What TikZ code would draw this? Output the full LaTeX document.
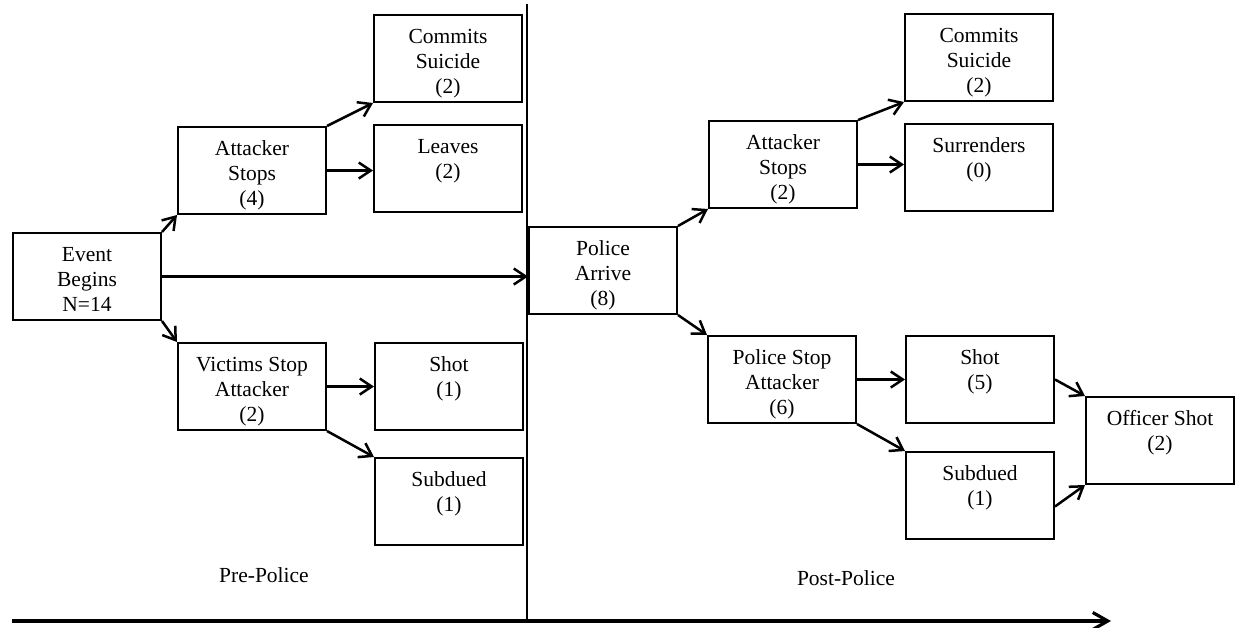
\documentclass[tikz,border=0pt]{standalone}
\usepackage{fontspec}
\setmainfont{Liberation Serif}
\usetikzlibrary{arrows.meta}
\newcommand\bxtext[1]{\parbox[c][87pt][t]{148pt}{\centering\rule{0pt}{28pt}#1}}
\tikzset{
  boxnode/.style={draw, line width=2pt, inner sep=0pt, anchor=north west, font=\fontsize{21.5}{25}\selectfont},
  flow/.style={line width=2.5pt, -{Straight Barb[length=12pt,width=16pt,line width=2.5pt]}},
  axis/.style={line width=3.5pt, -{Straight Barb[length=15pt,width=17pt,line width=3.2pt]}},
  divider/.style={line width=2.6pt},
  phase/.style={anchor=base, font=\fontsize{21.5}{25}\selectfont}
}
\begin{document}
\begin{tikzpicture}[x=1pt,y=-1pt]
\useasboundingbox (0,0) rectangle (1235,627);
% divider and time axis
\coordinate (vtop) at (527,4);
\coordinate (vbot) at (527,621);
\coordinate (axstart) at (12,621);
\coordinate (axend) at (1111,621);
\draw[divider] (vtop) -- (vbot);
\draw[axis] (axstart) -- (axend);
% boxes
\node[boxnode] (ev) at (12,232) {\bxtext{Event\\Begins\\N=14}};
\node[boxnode] (as1) at (177,126) {\bxtext{Attacker\\Stops\\(4)}};
\node[boxnode] (cs1) at (373,14) {\bxtext{Commits\\Suicide\\(2)}};
\node[boxnode] (lv1) at (373,124) {\bxtext{Leaves\\(2)}};
\node[boxnode] (vs1) at (177,342) {\bxtext{Victims Stop\\Attacker\\(2)}};
\node[boxnode] (sh1) at (374,342) {\bxtext{Shot\\(1)}};
\node[boxnode] (sb1) at (374,457) {\bxtext{Subdued\\(1)}};
\node[boxnode] (pa) at (528,226) {\bxtext{Police\\Arrive\\(8)}};
\node[boxnode] (as2) at (708,120) {\bxtext{Attacker\\Stops\\(2)}};
\node[boxnode] (cs2) at (904,13) {\bxtext{Commits\\Suicide\\(2)}};
\node[boxnode] (su2) at (904,123) {\bxtext{Surrenders\\(0)}};
\node[boxnode] (ps2) at (707,335) {\bxtext{Police Stop\\Attacker\\(6)}};
\node[boxnode] (sh2) at (905,335) {\bxtext{Shot\\(5)}};
\node[boxnode] (sb2) at (905,451) {\bxtext{Subdued\\(1)}};
\node[boxnode] (os) at (1085,396) {\bxtext{Officer Shot\\(2)}};
% phase labels
\node[phase] (pre) at (264,582) {Pre-Police};
\node[phase] (post) at (846,585) {Post-Police};
% connectors
\draw[flow] (ev.north east) -- (as1.south west);
\draw[flow] (ev.south east) -- (vs1.north west);
\draw[flow] (ev.east) -- (ev.east -| pa.west);
\draw[flow] (as1.north east) -- (cs1.south west);
\draw[flow] (as1.east) -- (as1.east -| lv1.west);
\draw[flow] (vs1.east) -- (vs1.east -| sh1.west);
\draw[flow] (vs1.south east) -- (sb1.north west);
\draw[flow] (pa.north east) -- (as2.south west);
\draw[flow] (pa.south east) -- (ps2.north west);
\draw[flow] (as2.north east) -- (cs2.south west);
\draw[flow] (as2.east) -- (as2.east -| su2.west);
\draw[flow] (ps2.east) -- (ps2.east -| sh2.west);
\draw[flow] (ps2.south east) -- (sb2.north west);
\draw[flow] (sh2.east) -- (os.north west);
\draw[flow] ([yshift=-11pt]sb2.east) -- (os.south west);
\end{tikzpicture}
\end{document}
